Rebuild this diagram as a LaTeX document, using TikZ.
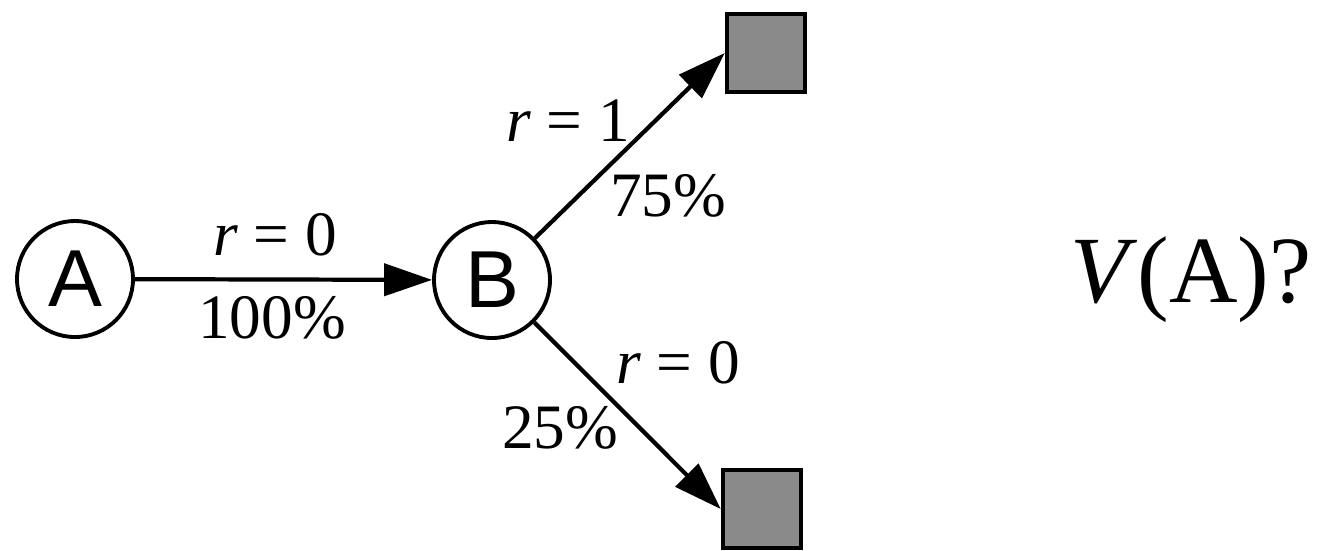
\documentclass[tikz,border=0pt]{standalone}
\usepackage{fontspec}
\setmainfont{Liberation Serif}
\newfontfamily\statefont{Liberation Sans}
\usepackage{xcolor}
\usetikzlibrary{arrows.meta,positioning}
\definecolor{termgray}{HTML}{8A8A8A}
\tikzset{
  >={Triangle[length=4.8mm,width=3.2mm]},
  state/.style={circle, draw, line width=1.1pt, minimum size=1.16cm, inner sep=0pt, font=\statefont\fontsize{23pt}{26pt}\selectfont},
  terminal/.style={rectangle, draw, fill=termgray, line width=1.3pt, minimum size=.78cm, inner sep=0pt},
  trans/.style={->, line width=1.2pt},
  lbl/.style={font=\fontsize{18pt}{21pt}\selectfont, inner sep=0pt}
}
\begin{document}
\begin{tikzpicture}[x=1cm,y=1cm]
  \useasboundingbox (0,0) rectangle (13.2,-5.5);
  \node[state] (A) at (.75,-2.79) {A};
  \node[state] (B) at (4.92,-2.80) {B};
  \node[terminal] (win) at (7.66,-.53) {};
  \node[terminal] (lose) at (7.62,-5.09) {};

  \draw[trans] (A) -- (B);
  \draw[trans] (B) -- (win.west);
  \draw[trans] (B) -- (lose.west);

  % rewards and probabilities
  \node[lbl] (rab) at (2.75,-2.35) {\textit{r} = 0};
  \node[lbl] (pab) at (2.72,-3.18) {100\%};
  \node[lbl] (rwin) at (5.68,-1.21) {\textit{r} = 1};
  \node[lbl] (pwin) at (6.68,-1.96) {75\%};
  \node[lbl] (rlose) at (6.78,-3.63) {\textit{r} = 0};
  \node[lbl] (plose) at (5.60,-4.28) {25\%};

  \node[font=\fontsize{27pt}{30pt}\selectfont, inner sep=0pt] (value) at (11.91,-2.80) {\textit{V}(A)?};
\end{tikzpicture}
\end{document}
